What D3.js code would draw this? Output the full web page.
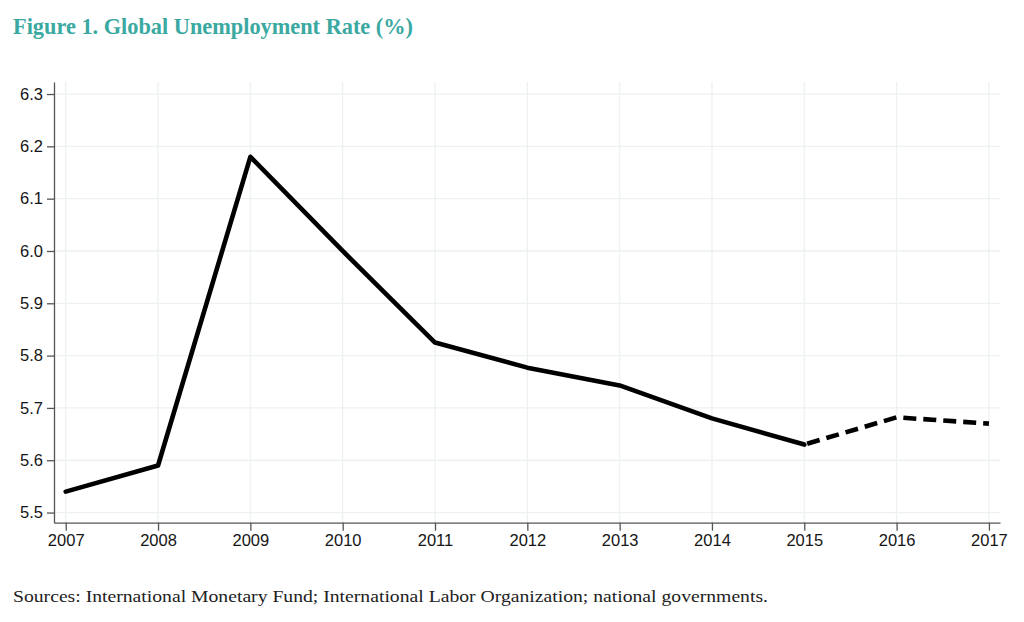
<!DOCTYPE html>
<html><head><meta charset="utf-8">
<script src="https://cdn.jsdelivr.net/npm/d3@7"></script>
<style>html,body{margin:0;padding:0;background:#fff;}</style>
</head><body>
<svg id="chart" width="1024" height="622"></svg>
<script>
const years = [2007,2008,2009,2010,2011,2012,2013,2014,2015,2016,2017];
const rates = [5.54,5.59,6.18,6.00,5.825,5.777,5.743,5.68,5.63,5.682,5.67];
const projectedFrom = 2015;
const yTicks = [5.5,5.6,5.7,5.8,5.9,6.0,6.1,6.2,6.3];
const titleText = "Figure 1. Global Unemployment Rate (%)";
const sourceText = "Sources: International Monetary Fund; International Labor Organization; national governments.";

const svg = d3.select("#chart");
const x = d3.scaleLinear().domain([2006.873, 2017.12]).range([54, 1000]);
const y = d3.scaleLinear().domain([5.4806, 6.323]).range([522.7, 82]);

// grid
const grid = svg.append("g");
grid.selectAll("line.v").data(years).join("line")
  .attr("x1", d=>x(d)).attr("x2", d=>x(d)).attr("y1", y.range()[1]).attr("y2", y.range()[0])
  .attr("stroke", "#edf1f1").attr("stroke-width", 1.3);
grid.selectAll("line.h").data(yTicks).join("line")
  .attr("y1", d=>y(d)).attr("y2", d=>y(d)).attr("x1", x.range()[0]).attr("x2", x.range()[1])
  .attr("stroke", "#edf1f1").attr("stroke-width", 1.3);

// axes
const xAxis = d3.axisBottom(x).tickValues(years).tickFormat(d3.format("d")).tickSize(8).tickPadding(4).tickSizeOuter(0);
const yAxis = d3.axisLeft(y).tickValues(yTicks).tickFormat(d3.format(".1f")).tickSize(7).tickPadding(4).tickSizeOuter(0);
const gx = svg.append("g").attr("transform", `translate(0,${y.range()[0]})`).call(xAxis);
const gy = svg.append("g").attr("transform", `translate(${x.range()[0]},0)`).call(yAxis);
[gx, gy].forEach(g => {
  g.select(".domain").attr("stroke", "#555").attr("stroke-width", 1.3);
  g.selectAll(".tick line").attr("stroke", "#555").attr("stroke-width", 1.3);
  g.selectAll(".tick text").attr("fill", "#151515").attr("font-family", "Liberation Sans, Arial, sans-serif").attr("font-size", 16.5);
});

// line
const pts = years.map((yr,i)=>({yr, v: rates[i]}));
const line = d3.line().x(d=>x(d.yr)).y(d=>y(d.v));
svg.append("path").datum(pts.filter(d=>d.yr<=projectedFrom))
  .attr("d", line).attr("fill","none").attr("stroke","#000").attr("stroke-width",4.6)
  .attr("stroke-linejoin","round").attr("stroke-linecap","round");
svg.append("path").datum(pts.filter(d=>d.yr>=projectedFrom))
  .attr("d", line).attr("fill","none").attr("stroke","#000").attr("stroke-width",4.6)
  .attr("stroke-dasharray","13,7").attr("stroke-dashoffset", -3);

// title & source
svg.append("text").attr("x", 13).attr("y", 34).text(titleText)
  .attr("font-family","Liberation Serif, Times New Roman, serif").attr("font-weight","bold")
  .attr("font-size", 24).attr("fill","#3aa9a1")
  .attr("textLength", 400).attr("lengthAdjust","spacingAndGlyphs");
svg.append("text").attr("x", 13).attr("y", 602).text(sourceText)
  .attr("font-family","Liberation Serif, Times New Roman, serif")
  .attr("font-size", 17.5).attr("fill","#222")
  .attr("textLength", 755).attr("lengthAdjust","spacingAndGlyphs");
</script>
</body></html>
